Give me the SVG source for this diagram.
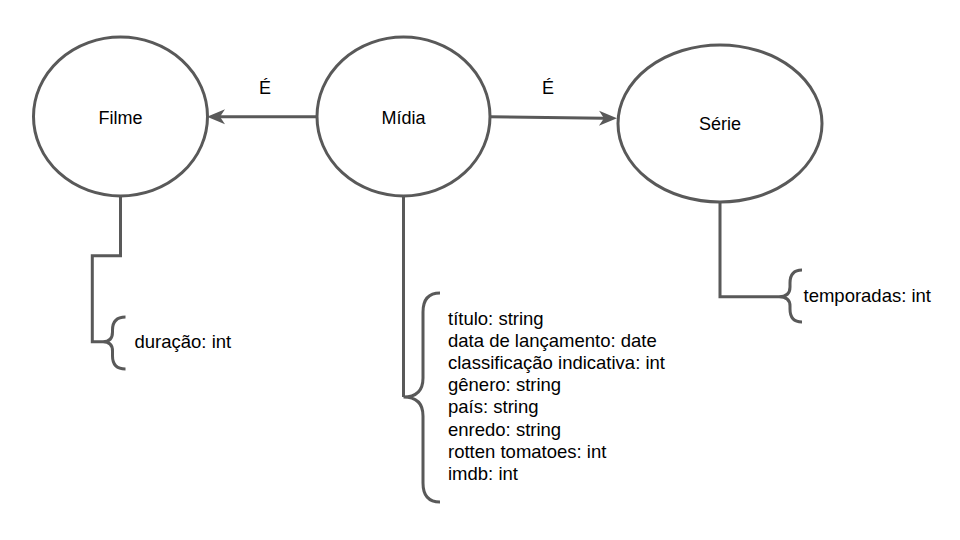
<svg xmlns="http://www.w3.org/2000/svg" width="960" height="540" viewBox="0 0 960 540">
<style>
.shape{fill:#ffffff;stroke:#595959;stroke-width:3}
.line{fill:none;stroke:#595959;stroke-width:3}
.lbl{font-family:"Liberation Sans",Arial,sans-serif;font-size:18px;fill:#000000}
.attr{font-family:"Liberation Sans",Arial,sans-serif;font-size:18.5px;fill:#000000}
</style>
<defs>
<marker id="arr" markerUnits="userSpaceOnUse" viewBox="-6 -8 20 16" refX="0" refY="0" markerWidth="20" markerHeight="16" orient="auto">
<path d="M13,0 L-5,-7.5 L0,0 L-5,7.5 Z" fill="#595959"/>
</marker>
</defs>
<rect width="960" height="540" fill="#ffffff"/>
<g id="connectors">
<path class="line" d="M317,116.7 L220,116.7" marker-end="url(#arr)"/>
<path class="line" d="M490,116.7 L604,118.2" marker-end="url(#arr)"/>
<path class="line" d="M120.5,196 L120.5,255.7 L92.3,255.7 L92.3,341.7 L103,341.7"/>
<path class="line" d="M403.5,196 L403.5,397"/>
<path class="line" d="M720,202 L720,296.7 L779,296.7"/>
</g>
<g id="filme">
<ellipse class="shape" cx="120.5" cy="116.5" rx="87" ry="79.5"/>
<text class="lbl" x="120.5" y="124" text-anchor="middle">Filme</text>
</g>
<g id="midia">
<ellipse class="shape" cx="403.5" cy="116.5" rx="86.5" ry="79.5"/>
<text class="lbl" x="403.5" y="124" text-anchor="middle">Mídia</text>
</g>
<g id="serie">
<ellipse class="shape" cx="720" cy="123.5" rx="102" ry="78.5"/>
<text class="lbl" x="720" y="130" text-anchor="middle">Série</text>
</g>
<g id="label-e-left">
<text class="lbl" x="265" y="94" text-anchor="middle">É</text>
</g>
<g id="label-e-right">
<text class="lbl" x="548" y="93.5" text-anchor="middle">É</text>
</g>
<g id="filme-attrs">
<path class="line" d="M125.5,317 Q112.5,317 112.5,330 L112.5,332 Q112.5,341.7 103,341.7 Q112.5,341.7 112.5,351 L112.5,356 Q112.5,369 125.5,369"/>
<text class="attr" x="134.5" y="348.3">duração: int</text>
</g>
<g id="midia-attrs">
<path class="line" d="M440,293 Q423,293 423,312 L423,378 Q423,397 403.5,397 Q423,397 423,416 L423,483 Q423,502 440,502"/>
<text class="attr" x="448" y="325">título: string</text>
<text class="attr" x="448" y="347.1">data de lançamento: date</text>
<text class="attr" x="448" y="369.2">classificação indicativa: int</text>
<text class="attr" x="448" y="391.3">gênero: string</text>
<text class="attr" x="448" y="413.4">país: string</text>
<text class="attr" x="448" y="435.5">enredo: string</text>
<text class="attr" x="448" y="457.6">rotten tomatoes: int</text>
<text class="attr" x="448" y="479.7">imdb: int</text>
</g>
<g id="serie-attrs">
<path class="line" d="M802,270 Q790,270 790,283 L790,287 Q790,296.7 779,296.7 Q790,296.7 790,306 L790,309 Q790,322 802,322"/>
<text class="attr" x="803.5" y="302">temporadas: int</text>
</g>
</svg>
